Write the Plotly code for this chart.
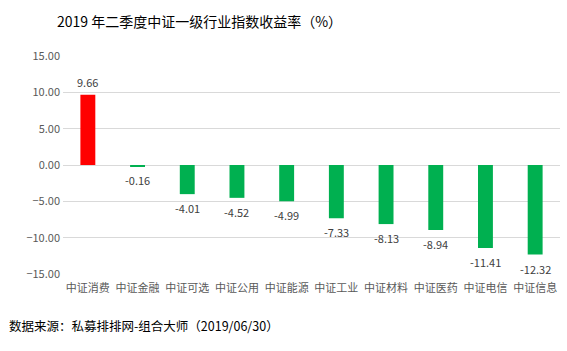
import plotly.graph_objects as go

categories = ["中证消费", "中证金融", "中证可选", "中证公用", "中证能源",
              "中证工业", "中证材料", "中证医药", "中证电信", "中证信息"]
values = [9.66, -0.16, -4.01, -4.52, -4.99, -7.33, -8.13, -8.94, -11.41, -12.32]
labels = ["%.2f" % v for v in values]
colors = ["#FF0000" if v > 0 else "#00B050" for v in values]

FONT = "Noto Sans CJK SC"

fig = go.Figure()
fig.add_trace(go.Bar(
    x=categories, y=values, marker=dict(color=colors, line=dict(width=0)),
    width=0.3, hoverinfo="skip",
))

for c, v, t in zip(categories, values, labels):
    fig.add_annotation(x=c, y=v, text=t, showarrow=False,
                       yshift=13 if v > 0 else -14,
                       font=dict(family=FONT, size=11, color="#404040"))

fig.add_annotation(xref="paper", yref="paper", x=-0.112, y=-0.234,
                   xanchor="left", yanchor="middle", showarrow=False,
                   text="数据来源：私募排排网-组合大师（2019/06/30）",
                   font=dict(family=FONT, size=12.5, color="#000000"))

fig.update_layout(
    width=567, height=351,
    margin=dict(l=63, r=7, t=56, b=77),
    paper_bgcolor="white", plot_bgcolor="white",
    showlegend=False,
    title=dict(text="2019 年二季度中证一级行业指数收益率（%）",
               x=57/567, xanchor="left", y=1-22/351, yanchor="middle",
               font=dict(family=FONT, size=14, color="#000000")),
    xaxis=dict(showgrid=False, showline=False, zeroline=False, ticks="",
               ticklabelstandoff=6,
               tickfont=dict(family=FONT, size=11, color="#595959")),
    yaxis=dict(range=[-15, 15], dtick=5, tickformat=".2f", autorange=False,
               showgrid=True, gridcolor="#D9D9D9", gridwidth=1,
               zeroline=True, zerolinecolor="#D9D9D9", zerolinewidth=1,
               showline=False, ticks="", ticklabelstandoff=2,
               tickfont=dict(family=FONT, size=11, color="#595959")),
    font=dict(family=FONT),
)

fig.write_html("out.html")
